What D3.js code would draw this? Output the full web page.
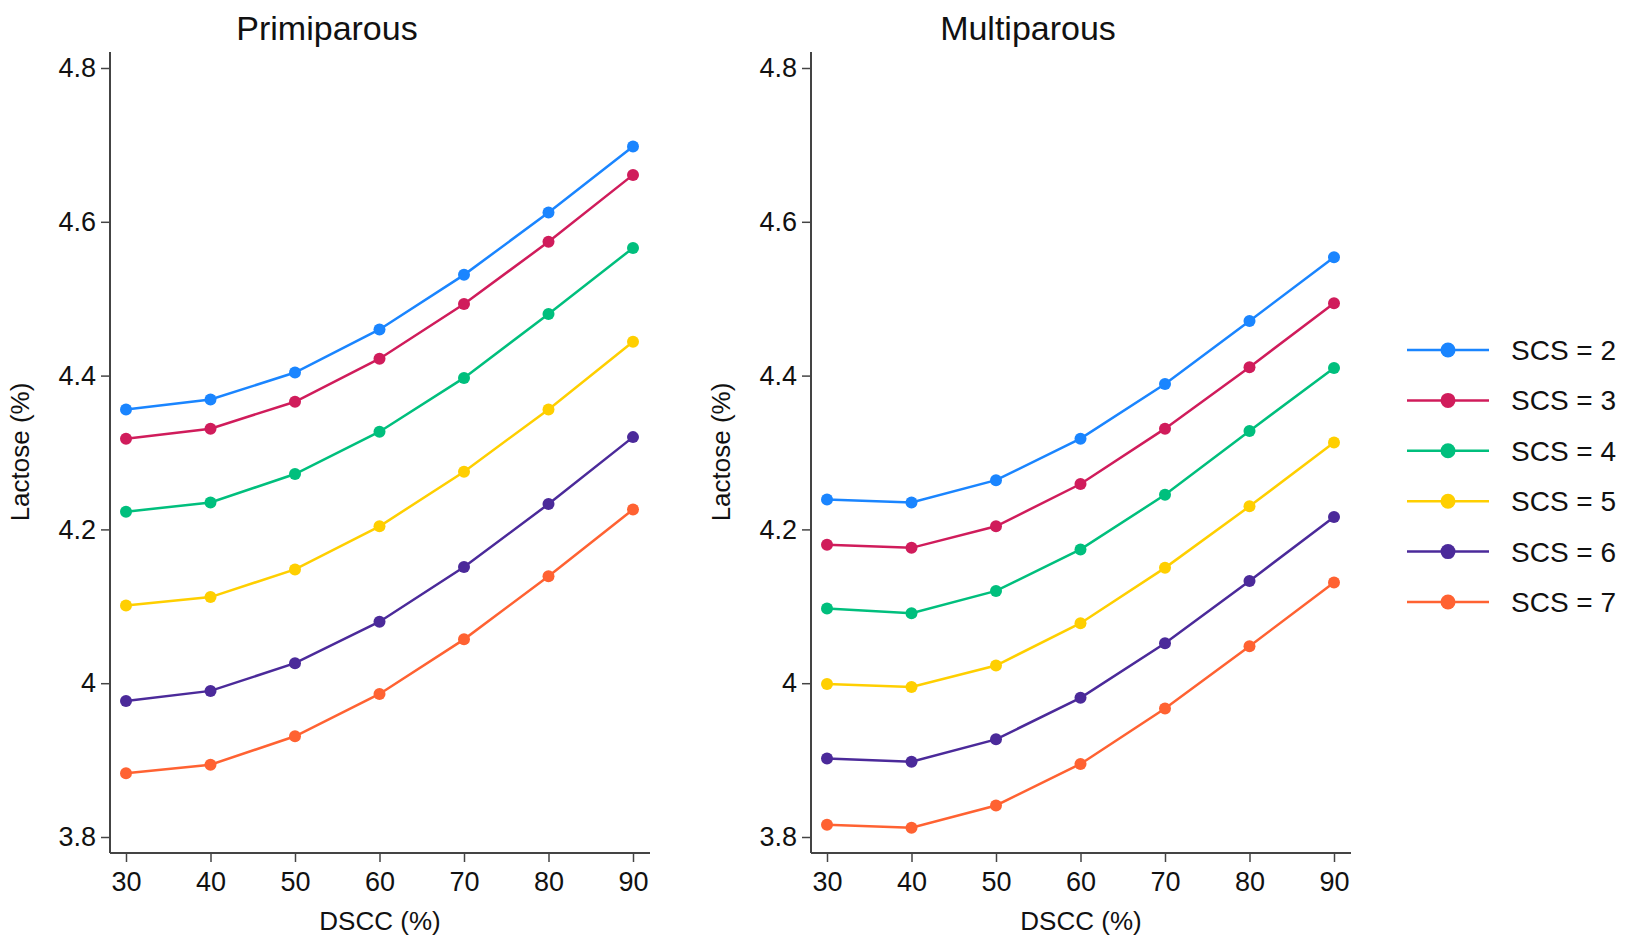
<!DOCTYPE html>
<html>
<head>
<meta charset="utf-8">
<script src="https://cdn.jsdelivr.net/npm/d3@7"></script>
<style>
  body { margin: 0; background: #fff; }
  text { font-family: "Liberation Sans", Arial, sans-serif; fill: #111; }
</style>
</head>
<body>
<svg id="drawing_region"></svg>
<script>
const dscc = [30, 40, 50, 60, 70, 80, 90];
const scsLevels = ["SCS = 2", "SCS = 3", "SCS = 4", "SCS = 5", "SCS = 6", "SCS = 7"];
const colors = ["#1a85ff", "#d01c5b", "#00bf7d", "#ffcf00", "#4b2a9a", "#ff6232"];
const yTicks = [3.8, 4, 4.2, 4.4, 4.6, 4.8];

// Primiparous
const primi = [
    [4.356, 4.369, 4.404, 4.460, 4.531, 4.612, 4.698],
    [4.318, 4.331, 4.366, 4.422, 4.493, 4.574, 4.661],
    [4.223, 4.235, 4.272, 4.327, 4.397, 4.480, 4.566],
    [4.101, 4.112, 4.148, 4.204, 4.275, 4.356, 4.444],
    [3.977, 3.990, 4.026, 4.080, 4.151, 4.233, 4.320],
    [3.883, 3.894, 3.931, 3.986, 4.057, 4.139, 4.226]
];

// Multiparous
const multi = [
    [4.239, 4.235, 4.264, 4.318, 4.389, 4.471, 4.554],
    [4.180, 4.176, 4.204, 4.259, 4.331, 4.411, 4.494],
    [4.097, 4.091, 4.120, 4.174, 4.245, 4.328, 4.410],
    [3.999, 3.995, 4.023, 4.078, 4.150, 4.230, 4.313],
    [3.902, 3.898, 3.927, 3.981, 4.052, 4.133, 4.216],
    [3.816, 3.812, 3.841, 3.895, 3.967, 4.048, 4.131]
];

const svg = d3.select('#drawing_region')
    .attr('width', 1638)
    .attr('height', 937);

function drawPanel(left, title, data) {
    const width = 540, top = 52, bottom = 853;
    const g = svg.append('g').attr('transform', `translate(${left}, 0)`);

    const xscale = d3.scaleLinear().domain([30, 90]).range([16, 523]);
    const yscale = d3.scaleLinear().domain([3.8, 4.8]).range([837, 68]);

    // axes
    const yaxis = d3.axisLeft(yscale).tickValues(yTicks).tickSize(9).tickPadding(5)
        .tickFormat(d3.format('~g'));
    const yg = g.append('g').call(yaxis);
    yg.select('.domain').remove();
    g.append('line').attr('x1', 0).attr('x2', 0).attr('y1', top).attr('y2', bottom)
        .attr('stroke', '#444').attr('stroke-width', 2);

    const xaxis = d3.axisBottom(xscale).tickValues(dscc).tickSize(9).tickPadding(10);
    const xg = g.append('g').attr('transform', `translate(0, ${bottom})`).call(xaxis);
    xg.select('.domain').remove();
    g.append('line').attr('x1', 0).attr('x2', width).attr('y1', bottom).attr('y2', bottom)
        .attr('stroke', '#444').attr('stroke-width', 2);

    g.selectAll('.tick line').attr('stroke', '#444').attr('stroke-width', 1.5);
    g.selectAll('.tick text').attr('font-size', '27px').attr('fill', '#111');

    // titles
    g.append('text').attr('x', 217).attr('y', 40).attr('text-anchor', 'middle')
        .attr('font-size', '34px').text(title);
    g.append('text').attr('x', 270).attr('y', 930).attr('text-anchor', 'middle')
        .attr('font-size', '26px').text('DSCC (%)');
    g.append('text').attr('transform', `translate(-81, 452) rotate(-90)`)
        .attr('text-anchor', 'middle').attr('font-size', '26px').text('Lactose (%)');

    const line = d3.line().x((d, i) => xscale(dscc[i])).y(d => yscale(d));

    data.forEach((vals, s) => {
        g.append('path').datum(vals)
            .attr('fill', 'none').attr('stroke', colors[s]).attr('stroke-width', 2.5)
            .attr('d', line);
        g.selectAll(null).data(vals).enter().append('circle')
            .attr('cx', (d, i) => xscale(dscc[i]))
            .attr('cy', d => yscale(d))
            .attr('r', 6)
            .attr('fill', colors[s]);
    });
}

drawPanel(110, 'Primiparous', primi);
drawPanel(811, 'Multiparous', multi);

// legend
const legend = svg.append('g').attr('transform', 'translate(1407, 350)');
scsLevels.forEach((lab, i) => {
    const row = legend.append('g').attr('transform', `translate(0, ${i * 50.4})`);
    row.append('line').attr('x1', 0).attr('x2', 82).attr('y1', 0).attr('y2', 0)
        .attr('stroke', colors[i]).attr('stroke-width', 2.5);
    row.append('circle').attr('cx', 41).attr('cy', 0).attr('r', 7.5).attr('fill', colors[i]);
    row.append('text').attr('x', 104).attr('y', 10).attr('font-size', '28px').text(lab);
});
</script>
</body>
</html>
